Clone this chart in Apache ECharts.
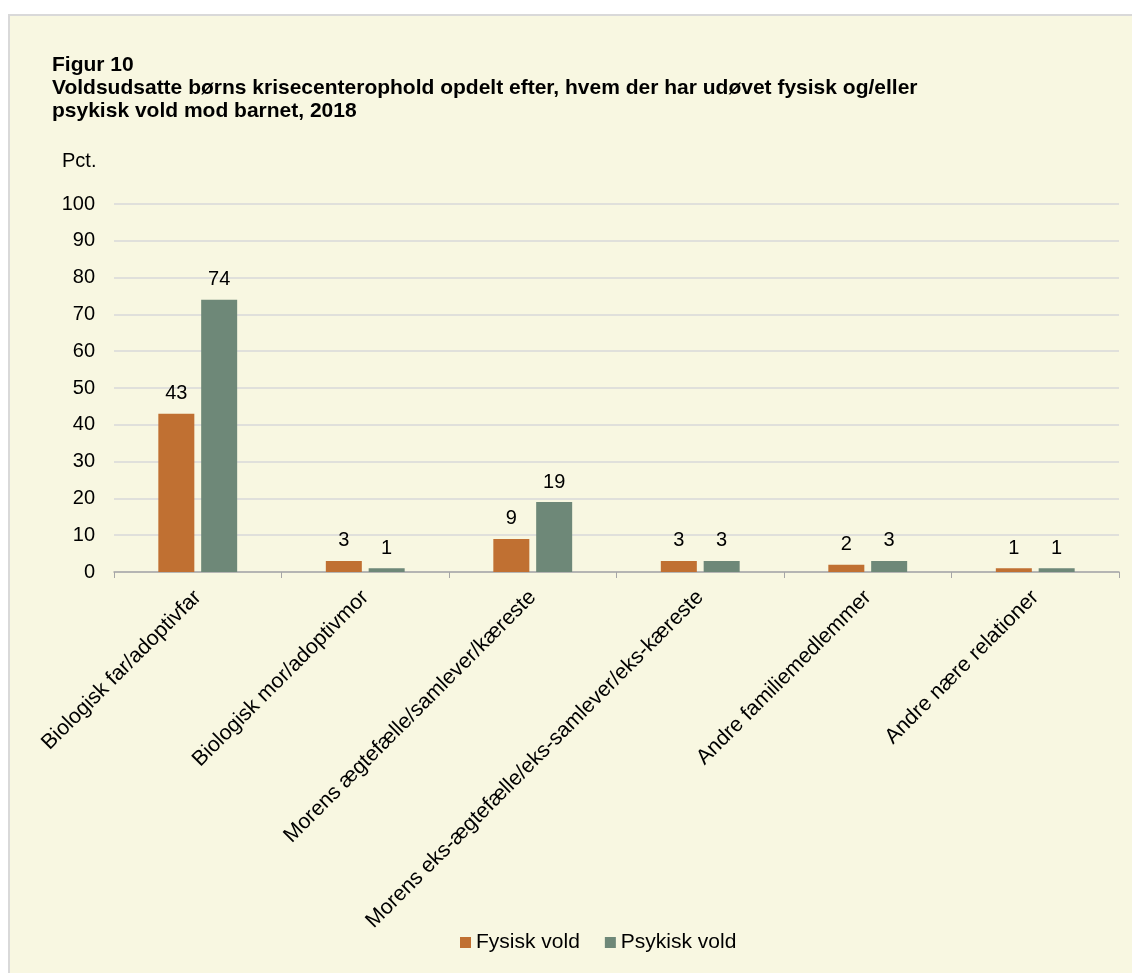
<!DOCTYPE html>
<html><head><meta charset="utf-8">
<script src="https://cdn.jsdelivr.net/npm/echarts@6/dist/echarts.min.js"></script>
<style>
html,body{margin:0;padding:0;background:#fff;width:1132px;height:973px;overflow:hidden;}
#bg{position:absolute;left:8px;top:14px;width:1130px;height:965px;background:#F8F7E1;border-top:2px solid #d9d9d9;border-left:2px solid #d9d9d9;}
#c{position:absolute;left:0;top:0;width:1132px;height:973px;}
</style></head>
<body><div id="bg"></div><div id="c"></div>
<script>
const categories = ["Biologisk far/adoptivfar","Biologisk mor/adoptivmor","Morens ægtefælle/samlever/kæreste","Morens eks-ægtefælle/eks-samlever/eks-kæreste","Andre familiemedlemmer","Andre nære relationer"];
const fysisk = [43,3,9,3,2,1];
const psykisk = [74,1,19,3,3,1];
const seriesNames = ["Fysisk vold","Psykisk vold"];
const titleText = "Figur 10\nVoldsudsatte børns krisecenterophold opdelt efter, hvem der har udøvet fysisk og/eller\npsykisk vold mod barnet, 2018";
const yName = "Pct.";

const chart = echarts.init(document.getElementById('c'), null, {renderer:'canvas'});
const font = 'Liberation Sans, Arial, sans-serif';
const lbl = {show:true, position:'top', distance:10, fontSize:20, color:'#000', fontFamily:font};
chart.setOption({
  backgroundColor:'transparent',
  textStyle:{fontFamily:font},
  title:[
    {text:titleText, left:47, top:49, textStyle:{fontSize:21, fontWeight:'bold', color:'#000', lineHeight:23, fontFamily:font}},
    {text:yName, left:57, top:146, textStyle:{fontSize:20, fontWeight:'normal', color:'#000', fontFamily:font}}
  ],
  legend:{top:927, left:455, itemWidth:11, itemHeight:11, itemGap:25, icon:'rect',
    textStyle:{fontSize:21, color:'#000', fontFamily:font}, data:seriesNames},
  grid:{left:114, right:13, top:204, bottom:401},
  xAxis:{type:'category', data:categories,
    axisLine:{lineStyle:{color:'#a6a6a6', width:1.5}},
    axisTick:{show:true, length:6, lineStyle:{color:'#a6a6a6'}},
    axisLabel:{interval:0, rotate:45, fontSize:21.3, color:'#000', margin:22, fontFamily:font}},
  yAxis:{type:'value', min:0, max:100, interval:10,
    axisLine:{show:false}, axisTick:{show:false},
    splitLine:{lineStyle:{color:'#d9d9d9', width:1.5}},
    axisLabel:{fontSize:20, color:'#000', margin:19, fontFamily:font}},
  series:[
    {name:seriesNames[0], type:'bar', data:fysisk, barWidth:36, barGap:'19%', itemStyle:{color:'#C07032'}, label:lbl},
    {name:seriesNames[1], type:'bar', data:psykisk, barWidth:36, itemStyle:{color:'#6E8878'}, label:lbl}
  ]
});
</script></body></html>
